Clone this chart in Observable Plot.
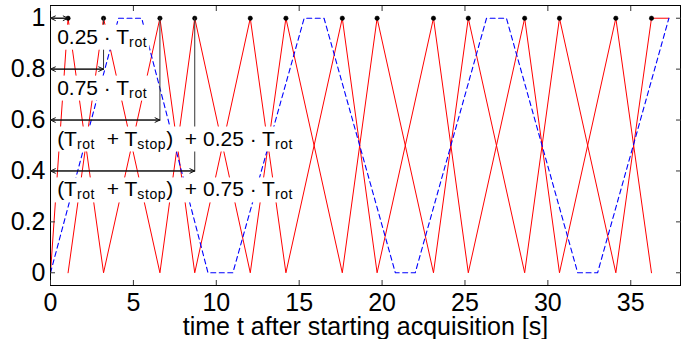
<!DOCTYPE html>
<html><head><meta charset="utf-8">
<script src="https://cdn.jsdelivr.net/npm/d3@7"></script>
<script src="https://cdn.jsdelivr.net/npm/@observablehq/plot@0.6"></script>
<style>body{margin:0;background:#fff} #chart{width:689px;height:339px}</style>
</head><body><div id="chart"></div>
<script>
// ---- data ----
const redA_t = [0, 1.06, 3.2, 6.6, 8.7, 12.05, 14.2, 17.6, 19.7, 23.1, 25.2, 28.6, 30.7, 34.1, 36.25];
const redA_v = [0, 1, 0, 1, 0, 1, 0, 1, 0, 1, 0, 1, 0, 1, 0];
const redB_t = [1.06, 3.2, 6.6, 8.7, 12.05, 14.2, 17.6, 19.7, 23.1, 25.2, 28.6, 30.7, 34.1, 36.25, 37.3];
const redB_v = [0, 1, 0, 1, 0, 1, 0, 1, 0, 1, 0, 1, 0, 1, 1];
const blue_t = [0, 4.1, 5.5, 9.5, 11.0, 15.3, 16.5, 20.8, 22.0, 26.3, 27.5, 31.8, 33.0, 37.3];
const blue_v = [0, 1, 1, 0, 0, 1, 1, 0, 0, 1, 1, 0, 0, 1];
const peak_t = [1.06, 3.2, 6.6, 8.7, 12.05, 14.2, 17.6, 19.7, 23.1, 25.2, 28.6, 30.7, 34.1, 36.25];
const arrowEnds = [1.06, 3.2, 6.6, 8.7];
const arrowLevels = [1, 0.8, 0.6, 0.4];
const annotLabels = ["0.25 · T_{rot}", "0.75 · T_{rot}", "(T_{rot}  + T_{stop})  + 0.25 · T_{rot}", "(T_{rot}  + T_{stop})  + 0.75 · T_{rot}"];
const annotX = [0.4, 0.4, 0.4, 0.4];
const annotY = [0.9, 0.7, 0.5, 0.3];
const xTicks = [0, 5, 10, 15, 20, 25, 30, 35];
const yTicks = [0, 0.2, 0.4, 0.6, 0.8, 1];
const xLabel = "time t after starting acquisition [s]";

const redA = redA_t.map((t, i) => ({t, v: redA_v[i]}));
const redB = redB_t.map((t, i) => ({t, v: redB_v[i]}));
const blue = blue_t.map((t, i) => ({t, v: blue_v[i]}));
const arrows = arrowEnds.map((e, i) => ({e, y: arrowLevels[i]}));
const annots = annotLabels.map((label, i) => ({label, x: annotX[i], y: annotY[i]}));

const FONT = "'Liberation Sans', Arial, Helvetica, sans-serif";
const chart = Plot.plot({
  width: 689, height: 339,
  marginLeft: 50, marginRight: 9, marginTop: 5, marginBottom: 54,
  style: {fontFamily: FONT, fontSize: "25px", background: "white", color: "black", overflow: "visible"},
  x: {domain: [0, 38]},
  y: {domain: [-0.05, 1.05]},
  marks: [
    Plot.line(redA, {x: "t", y: "v", stroke: "#ff0000", strokeWidth: 1}),
    Plot.line(redB, {x: "t", y: "v", stroke: "#ff0000", strokeWidth: 1}),
    Plot.line(blue, {x: "t", y: "v", stroke: "#0000ff", strokeWidth: 1.1, strokeDasharray: "5,3.5"}),
    Plot.dot(peak_t, {x: d => d, y: 1, r: 2.2, fill: "black", stroke: "black", strokeWidth: 0.5}),
    Plot.ruleX(arrows.slice(1), {x: "e", y1: 1, y2: "y", stroke: "#333", strokeWidth: 1}),
    Plot.arrow(arrows, {x1: 0, y1: "y", x2: "e", y2: "y", stroke: "#111", strokeWidth: 1, headLength: 8, headAngle: 50}),
    Plot.arrow(arrows, {x1: "e", y1: "y", x2: 0, y2: "y", stroke: "#111", strokeWidth: 1, headLength: 8, headAngle: 50}),
    Plot.text(annots, {x: "x", y: "y", text: "label", textAnchor: "start", fontSize: 21, fill: "black"}),
    Plot.frame({stroke: "black", strokeWidth: 1}),
    Plot.axisX({ticks: xTicks, tickSize: 0, tickPadding: 8, label: null, tickFormat: d => String(d)}),
    Plot.axisX({ticks: xTicks, anchor: "bottom", tickSize: -5, tickFormat: () => "", label: null, stroke: "#333"}),
    Plot.axisX({ticks: xTicks, anchor: "top", tickSize: -5, tickFormat: () => "", label: null, stroke: "#333"}),
    Plot.axisY({ticks: yTicks, tickSize: 0, tickPadding: 5, label: null, tickFormat: d => String(d)}),
    Plot.axisY({ticks: yTicks, anchor: "left", tickSize: -5, tickFormat: () => "", label: null, stroke: "#333"}),
    Plot.axisY({ticks: yTicks, anchor: "right", tickSize: -5, tickFormat: () => "", label: null, stroke: "#333"}),
    Plot.text([xLabel], {text: d => d, frameAnchor: "bottom", dy: 41, lineAnchor: "middle", fontSize: 25})
  ]
});
document.getElementById("chart").append(chart);

// Render T_{sub} as real subscript tspans and put a white box behind each annotation
const NS = "http://www.w3.org/2000/svg";
const SUB_SIZE = 14, SUB_SHIFT = 3;
chart.querySelectorAll("text").forEach(t => {
  const s = t.textContent;
  if (!s.includes("_{")) return;
  t.removeAttribute("y"); t.removeAttribute("dy");
  t.style.whiteSpace = "pre";
  while (t.firstChild) t.removeChild(t.firstChild);
  let shifted = false;
  for (const p of s.split(/(_\{[^}]*\})/)) {
    if (!p) continue;
    const ts = document.createElementNS(NS, "tspan");
    if (p.startsWith("_{")) {
      ts.textContent = p.slice(2, -1);
      ts.setAttribute("font-size", SUB_SIZE);
      ts.setAttribute("dy", SUB_SHIFT);
      ts.setAttribute("letter-spacing", "0.6");
      shifted = true;
    } else {
      ts.textContent = p;
      if (shifted) { ts.setAttribute("dy", -SUB_SHIFT); shifted = false; }
    }
    t.appendChild(ts);
  }
  const bb = t.getBBox();
  const r = document.createElementNS(NS, "rect");
  r.setAttribute("x", bb.x - 3);
  r.setAttribute("y", bb.y);
  r.setAttribute("width", bb.width + 5);
  r.setAttribute("height", bb.height);
  r.setAttribute("fill", "white");
  r.setAttribute("stroke", "none");
  if (t.getAttribute("transform")) r.setAttribute("transform", t.getAttribute("transform"));
  t.parentNode.insertBefore(r, t);
});
</script>
</body></html>
